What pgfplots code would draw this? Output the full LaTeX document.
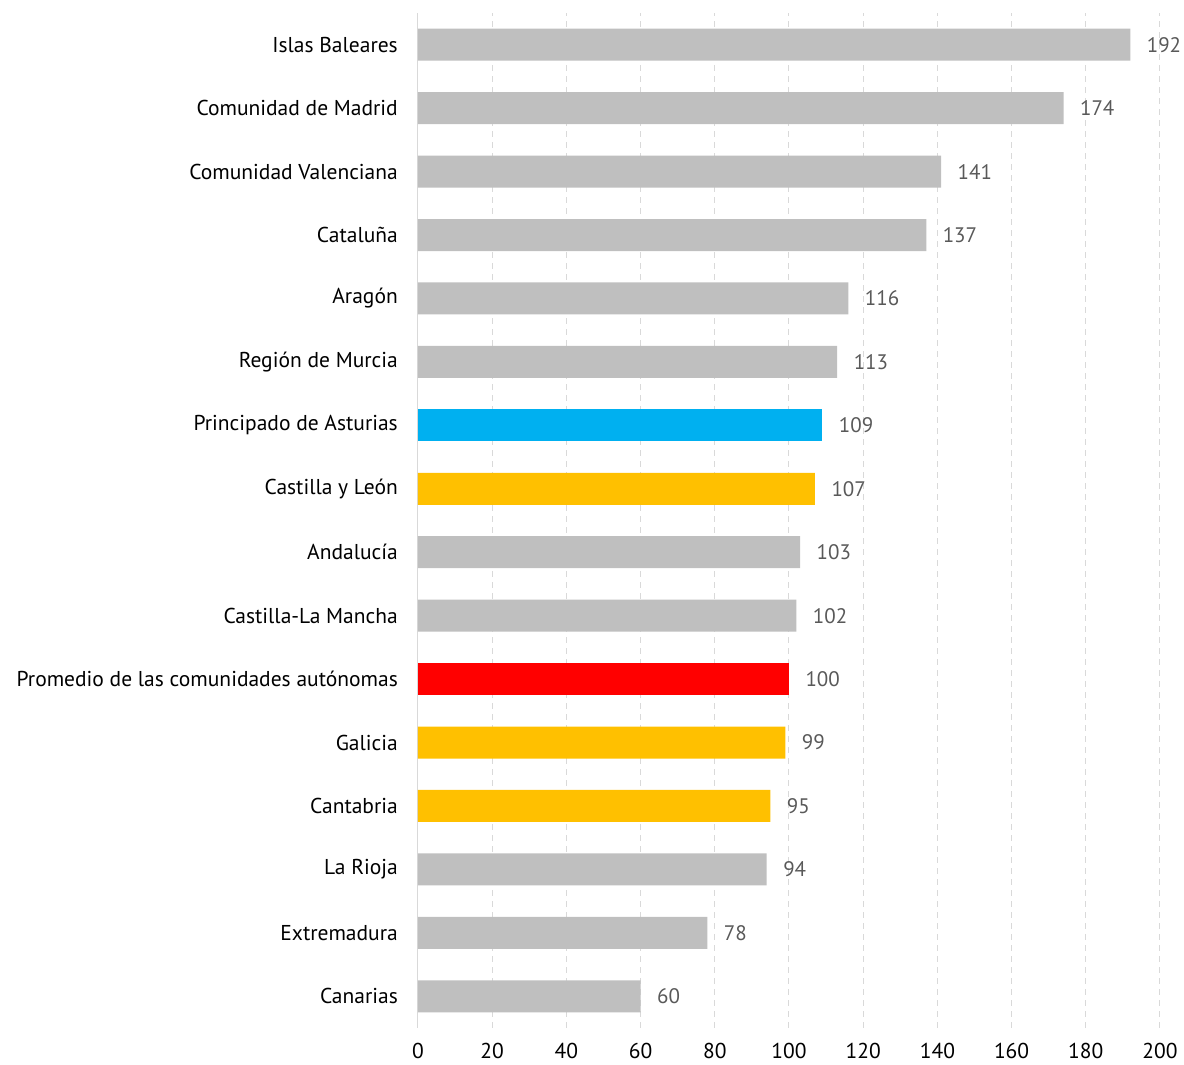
\documentclass[border=0pt]{standalone}
\usepackage{fontspec}
\setmainfont{PT Sans}
\usepackage{pgfplots}
\pgfplotsset{compat=1.18}
\definecolor{bargray}{HTML}{BFBFBF}
\definecolor{barblue}{HTML}{00B0F0}
\definecolor{baryellow}{HTML}{FFC000}
\definecolor{barred}{HTML}{FF0000}
\definecolor{gridgray}{HTML}{D9D9D9}
\definecolor{valgray}{HTML}{595959}
\begin{document}
\begin{tikzpicture}
\useasboundingbox (-418pt,-37pt) rectangle (766pt,1028pt);
\begin{axis}[
  at={(0,0)}, anchor=south west,
  scale only axis, width=742pt, height=1015pt,
  xmin=0, xmax=200, ymin=-0.5, ymax=15.5,
  xtick={0,20,...,200},
  ytick={0,...,15},
  yticklabels={Canarias,Extremadura,La Rioja,Cantabria,Galicia,Promedio de las comunidades autónomas,Castilla-La Mancha\hspace{5pt},Andalucía,Castilla y León,Principado de Asturias,Región de Murcia,Aragón,Cataluña,Comunidad Valenciana,Comunidad de Madrid,Islas Baleares},
  /pgf/number format/assume math mode=true,
  axis lines*=left,
  x axis line style={draw=none},
  y axis line style={draw=gridgray, line width=1pt},
  major tick length=0pt,
  xmajorgrids,
  major grid style={draw=gridgray, dash pattern=on 6pt off 5pt, line width=1pt},
  xticklabel style={font=\fontsize{21.5}{25}\selectfont, text=black, inner sep=0pt, anchor=north, yshift=-15pt},
  yticklabel style={font=\fontsize{21.5}{25}\selectfont, text=black, inner sep=0pt, anchor=east, xshift=-20pt},
  xbar, bar width=32pt, bar shift=0pt,
  nodes near coords,
  every node near coord/.append style={font=\fontsize{21}{24}\selectfont, text=valgray, anchor=west, xshift=13pt},
  clip=false,
]
\addplot[fill=bargray, draw=none] coordinates {(60,0) (78,1) (94,2) (102,6) (103,7) (113,10) (116,11) (137,12) (141,13) (174,14) (192,15)};
\addplot[fill=baryellow, draw=none] coordinates {(95,3) (99,4) (107,8)};
\addplot[fill=barred, draw=none] coordinates {(100,5)};
\addplot[fill=barblue, draw=none] coordinates {(109,9)};
\end{axis}
\end{tikzpicture}
\end{document}
